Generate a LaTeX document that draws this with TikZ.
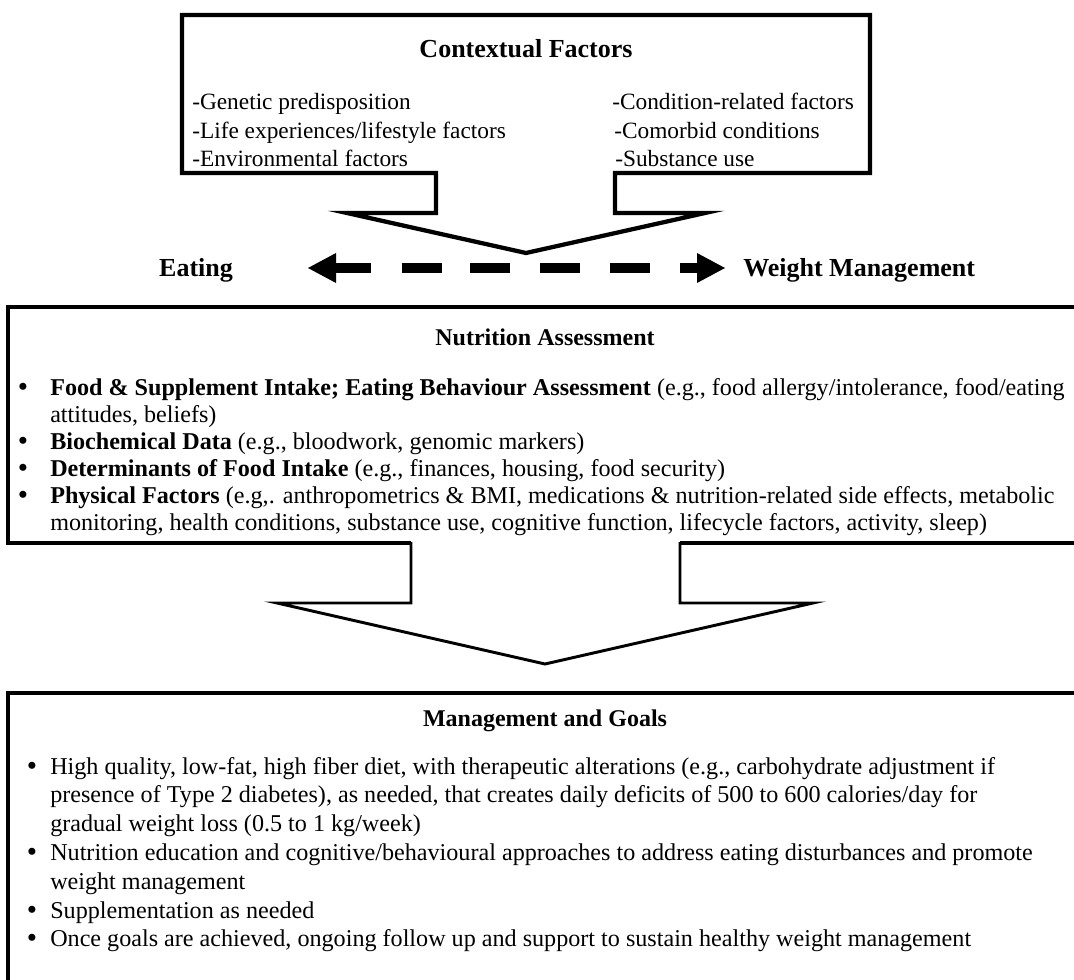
\documentclass[tikz,border=0pt]{standalone}
\usepackage{fontspec}
\setmainfont{Liberation Serif}
\usetikzlibrary{calc}

\begin{document}
\begin{tikzpicture}[x=0.75pt,y=-0.75pt,
  topframe/.style={line width=3.2pt, line join=miter, line cap=butt},
  boxframe/.style={line width=2.4pt, line join=miter, line cap=butt},
  arrowframe/.style={line width=2.2pt, line join=miter, line cap=butt},
  toptitle/.style={font=\fontsize{19.5}{23}\selectfont\bfseries, inner sep=0pt, anchor=base},
  topitem/.style={font=\fontsize{17.5}{21}\selectfont, inner sep=0pt, anchor=base west},
  sidelabel/.style={font=\fontsize{19.5}{23}\selectfont\bfseries, inner sep=0pt, anchor=base},
  boxtitle/.style={font=\fontsize{18}{22}\selectfont\bfseries, inner sep=0pt, anchor=base},
  item/.style={font=\fontsize{18.1}{22}\selectfont, inner sep=0pt, anchor=base west},
  dot/.style={font=\fontsize{22}{24}\selectfont, inner sep=0pt, anchor=base}
]
\clip (0,0) rectangle (1074,980);
\fill[white] (0,0) rectangle (1074,980);

% ---- contextual factors box with its downward arrow ----
\draw[topframe] (182,15) -- (870,15) -- (870,173) -- (615,173) -- (615,213)
  -- (705,213) -- (526,253) -- (347,213) -- (436,213) -- (436,173)
  -- (182,173) -- cycle;
\node[toptitle] (ctx) at (526,58) {Contextual Factors};
\node[topitem] (l1) at (192,110) {-Genetic predisposition};
\node[topitem] (l2) at (192,139) {-Life experiences/lifestyle factors};
\node[topitem] (l3) at (192,167) {-Environmental factors};
\node[topitem] (r1) at (612,110) {-Condition-related factors};
\node[topitem] (r2) at (614,139) {-Comorbid conditions};
\node[topitem] (r3) at (615,167) {-Substance use};

% ---- eating <-> weight management ----
\node[sidelabel] (eat) at (196,277) {Eating};
\node[sidelabel, anchor=base west] (wm) at (743,277) {Weight Management};
\coordinate (dl) at (308,268);
\coordinate (dr) at (725,268);
\fill (dl) -- ++(28,-15) -- ++(0,30) -- cycle;
\fill (dr) -- ++(-28,-15) -- ++(0,30) -- cycle;
\draw[line width=7pt, line cap=butt,
  dash pattern=on 27pt off 23pt on 30pt off 21.5pt on 30pt off 22.5pt on 30pt off 22.5pt on 30pt off 22.5pt on 30pt off 22.5pt]
  ($(dl)+(27,0)$) -- ($(dr)+(-27,0)$);

% ---- nutrition assessment box with its downward arrow ----
\draw[boxframe] (1090,307) -- (8,307) -- (8,543) -- (411,543);
\draw[boxframe] (680,543) -- (1090,543);
\draw[arrowframe] (411,542) -- (411,603) -- (277,603) -- (545,664) -- (813,603)
  -- (680,603) -- (680,542);
\node[boxtitle] (na) at (545,346) {Nutrition Assessment};
\node[dot] (b1) at (23,397) {\textbullet};
\node[item] (n1) at (50,396) {\textbf{Food \& Supplement Intake; Eating Behaviour Assessment} (e.g., food allergy/intolerance, food/eating};
\node[item] (n1b) at (50,422) {attitudes, beliefs)};
\node[dot] (b2) at (23,450) {\textbullet};
\node[item] (n2) at (50,449) {\textbf{Biochemical Data} (e.g., bloodwork, genomic markers)};
\node[dot] (b3) at (23,477) {\textbullet};
\node[item] (n3) at (50,476) {\textbf{Determinants of Food Intake} (e.g., finances, housing, food security)};
\node[dot] (b4) at (23,504) {\textbullet};
\node[item] (n4) at (50,503) {\textbf{Physical Factors} (e.g,. anthropometrics \& BMI, medications \& nutrition-related side effects, metabolic};
\node[item] (n4b) at (50,530) {monitoring, health conditions, substance use, cognitive function, lifecycle factors, activity, sleep)};

% ---- management and goals box ----
\draw[boxframe] (1090,693) -- (8,693) -- (8,1000);
\node[boxtitle] (mg) at (545,726) {Management and Goals};
\node[dot] (g1) at (32,775) {\textbullet};
\node[item] (m1) at (50,774) {High quality, low-fat, high fiber diet, with therapeutic alterations (e.g., carbohydrate adjustment if};
\node[item] (m1b) at (50,802.8) {presence of Type 2 diabetes), as needed, that creates daily deficits of 500 to 600 calories/day for};
\node[item] (m1c) at (50,831.6) {gradual weight loss (0.5 to 1 kg/week)};
\node[dot] (g2) at (32,861.4) {\textbullet};
\node[item] (m2) at (50,860.4) {Nutrition education and cognitive/behavioural approaches to address eating disturbances and promote};
\node[item] (m2b) at (50,889.2) {weight management};
\node[dot] (g3) at (32,919) {\textbullet};
\node[item] (m3) at (50,918) {Supplementation as needed};
\node[dot] (g4) at (32,947.8) {\textbullet};
\node[item] (m4) at (50,946.8) {Once goals are achieved, ongoing follow up and support to sustain healthy weight management};
\end{tikzpicture}
\end{document}
